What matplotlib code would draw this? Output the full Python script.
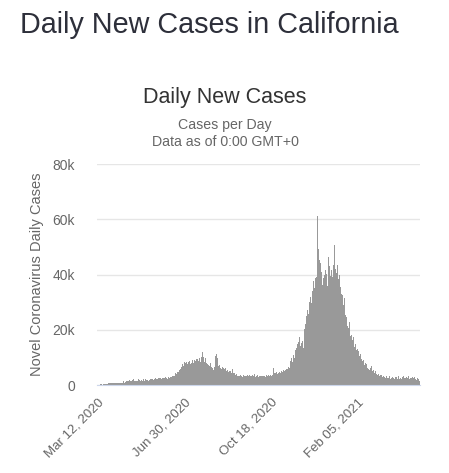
import matplotlib
matplotlib.use("Agg")
import matplotlib.pyplot as plt
import numpy as np
import pandas as pd

# daily new cases in thousands, one row per week, starting Mar 12, 2020
start_date = "2020-03-12"
cases_k = [
    0.05, 0.1, 0.15, 0.1, 0.2, 0.25, 0.15, 0.3, 0.25, 0.35, 0.3, 0.4, 0.35, 0.45,
    0.55, 0.6, 0.65, 0.6, 0.7, 0.65, 0.6, 0.7, 0.75, 0.65, 0.7, 0.6, 0.75, 0.7,
    0.8, 0.75, 0.9, 0.7, 0.8, 1.3, 0.9,
    1.0, 1.2, 1.5, 1.3, 1.6, 1.4, 1.9,
    1.5, 1.3, 1.7, 1.6, 2.0, 1.4, 1.5,
    1.8, 1.6, 1.5, 2.1, 1.7, 1.4, 1.6,
    1.7, 1.5, 2.0, 1.8, 1.6, 2.1, 1.7,
    1.8, 2.2, 1.6, 1.9, 2.0, 1.7, 2.2,
    2.0, 1.9, 2.3, 2.1, 2.4, 2.0, 2.3,
    2.5, 2.2, 2.6, 2.4, 2.3, 2.7, 2.5,
    2.6, 2.4, 2.8, 2.5, 2.7, 2.3, 2.9,
    2.7, 2.6, 3.0, 2.8, 3.3, 3.1, 3.6,
    3.4, 4.2, 4.0, 4.8, 5.2, 4.6, 5.5,
    5.8, 6.5, 6.2, 7.5, 6.8, 8.2, 9.0,
    7.8, 8.5, 7.6, 8.3, 7.9, 8.8, 7.7,
    8.1, 9.2, 8.4, 8.0, 9.0, 8.6, 9.5,
    8.8, 9.4, 8.7, 9.9, 9.1, 8.5, 10.2,
    11.8, 10.3, 9.2, 8.4, 9.6, 8.1, 7.6,
    8.2, 7.4, 6.8, 7.9, 6.5, 7.2, 6.1,
    5.4, 6.6, 5.8, 10.4, 11.2, 9.8, 6.9,
    6.4, 7.1, 6.2, 5.9, 6.5, 5.6, 6.0,
    5.7, 6.3, 5.2, 4.8, 5.5, 4.6, 5.1,
    4.4, 4.9, 4.2, 5.8, 4.5, 4.0, 4.3,
    3.6, 3.9, 3.2, 2.9, 3.4, 3.1, 3.7,
    3.3, 3.6, 3.0, 3.5, 3.2, 3.8, 3.4,
    3.1, 3.5, 3.3, 3.0, 3.7, 3.2, 3.4,
    3.6, 3.1, 3.3, 3.9, 3.0, 3.4, 3.2,
    3.5, 3.0, 3.3, 3.6, 3.1, 3.4, 3.2,
    3.3, 3.7, 3.2, 3.0, 3.5, 3.4, 3.1,
    3.6, 3.3, 3.8, 3.4, 4.2, 3.7, 6.2,
    4.4, 3.9, 4.3, 4.6, 4.1, 4.5, 4.2,
    4.7, 4.4, 5.1, 4.6, 4.9, 5.3, 5.0,
    5.6, 5.9, 6.3, 5.8, 6.5, 6.1, 7.0,
    8.8, 9.6, 8.5, 10.8, 11.5, 9.9, 12.6,
    13.4, 14.8, 13.9, 15.6, 17.5, 14.2, 15.1,
    14.6, 15.8, 13.5, 20.3, 18.9, 22.1, 24.8,
    27.2, 25.6, 28.4, 30.1, 31.9, 29.7, 34.2,
    36.5, 37.8, 35.1, 38.6, 39.2, 37.4, 61.2,
    49.1, 45.3, 42.7, 44.1, 40.8, 36.2, 38.9,
    43.8, 39.7, 41.5, 40.2, 35.8, 38.4, 46.3,
    42.9, 39.5, 41.8, 44.2, 39.1, 43.6, 50.6,
    44.3, 42.1, 40.6, 43.5, 38.2, 36.7, 39.8,
    35.4, 33.1, 32.6, 30.8, 28.9, 31.5, 25.3,
    24.6, 22.1, 21.4, 20.5, 22.8, 17.6, 19.2,
    18.1, 16.4, 17.3, 15.2, 13.8, 14.9, 12.6,
    13.1, 11.8, 12.4, 10.6, 11.2, 9.5, 10.1,
    8.6, 9.2, 7.4, 8.1, 6.9, 7.6, 6.2,
    5.8, 6.9, 5.4, 6.1, 7.0, 5.2, 4.8,
    5.3, 4.4, 4.9, 3.9, 4.3, 3.6, 4.1,
    3.4, 3.8, 3.1, 3.5, 2.9, 3.3, 2.7,
    3.0, 2.6, 3.2, 2.4, 2.8, 2.5, 3.1,
    2.3, 2.7, 2.2, 3.0, 2.5, 2.1, 2.8,
    2.4, 2.9, 2.2, 3.3, 2.6, 2.0, 2.7,
    2.3, 2.8, 2.1, 3.2, 2.5, 2.4, 2.9,
    2.2, 2.6, 3.1, 2.3, 2.7, 2.0, 2.5,
    2.9, 2.4, 2.1, 2.8, 2.3, 1.9, 2.5,
    1.7, 2.1, 1.4,
]
tick_every = 110
y_ticks = [0, 20000, 40000, 60000, 80000]
y_labels = ["0", "20k", "40k", "60k", "80k"]

cases = np.array(cases_k) * 1000
dates = pd.date_range(start_date, periods=len(cases), freq="D")
x = np.arange(len(cases))

plt.rcParams['font.family'] = ['Liberation Sans', 'DejaVu Sans']

fig = plt.figure(figsize=(4.49, 4.73), dpi=100)
ax = fig.add_axes([97 / 449, 1 - 385 / 473, 323 / 449, 221 / 473])

ax.bar(x, cases, width=1.0, color="#999999", linewidth=0, antialiased=False, zorder=2)

ax.set_xlim(-0.5, len(cases) - 0.5)
ax.set_ylim(0, 80000)
ax.set_yticks(y_ticks)
ax.set_yticklabels(y_labels, color="#666666", fontsize=10)
ax.yaxis.grid(True, color="#e6e6e6", linewidth=1, zorder=0)
ax.set_axisbelow(True)

tick_pos = x[::tick_every]
ax.set_xticks(tick_pos)
ax.set_xticklabels([d.strftime("%b %d, %Y") for d in dates[::tick_every]],
                   rotation=45, ha="right", rotation_mode="anchor",
                   color="#666666", fontsize=9.5)
ax.tick_params(axis="x", length=0, pad=8)
ax.tick_params(axis="y", length=0, pad=16)

for s in ["top", "right", "left"]:
    ax.spines[s].set_visible(False)
ax.spines["bottom"].set_color("#ccd6eb")

ax.set_ylabel("Novel Coronavirus Daily Cases", color="#666666", fontsize=10.5, labelpad=6)

fig.text(20 / 449, 1 - 25 / 473, "Daily New Cases in California", fontsize=20.7,
         color="#2d2f3a", va="center", ha="left")
fig.text(225 / 449, 1 - 98 / 473, "Daily New Cases", fontsize=15.5,
         color="#333333", va="center", ha="center")
fig.text(225 / 449, 1 - 125 / 473, "Cases per Day", fontsize=10.2,
         color="#666666", va="center", ha="center")
fig.text(225 / 449, 1 - 142 / 473, "Data as of 0:00 GMT+0", fontsize=10.2,
         color="#666666", va="center", ha="center")

fig.savefig("out.png", dpi=100)
